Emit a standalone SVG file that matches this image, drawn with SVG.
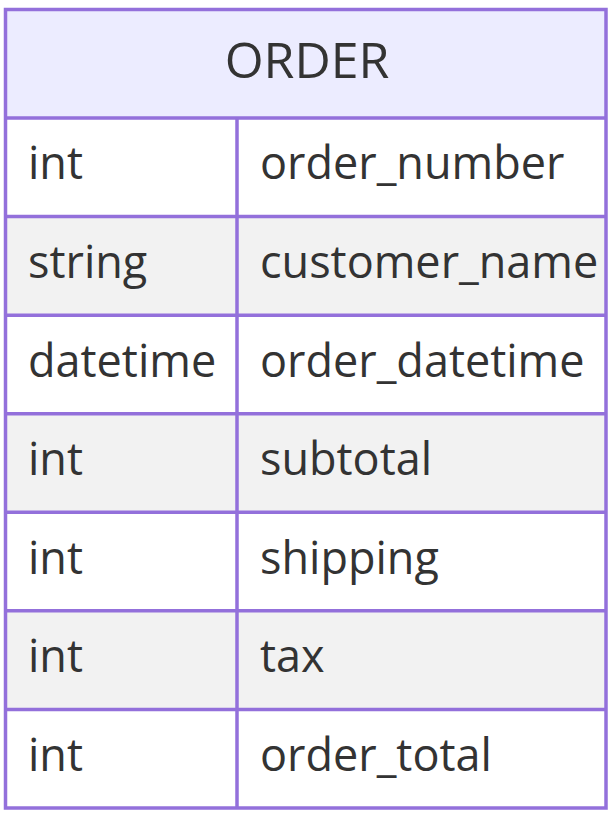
<svg xmlns="http://www.w3.org/2000/svg" width="614" height="818" viewBox="0 0 614 818">
<style>
.t{font-family:"Open Sans","Liberation Sans",sans-serif;font-size:45px;fill:#333333}
.h{font-family:"Open Sans","Liberation Sans",sans-serif;font-size:50px;fill:#333333;text-anchor:middle}
.ln{stroke:#9370DB;stroke-width:3.5;fill:none}
.odd{fill:#ffffff}
.even{fill:#f2f2f2}
</style>
<g id="ORDER">
<rect x="5.5" y="9.5" width="600.5" height="108.5" fill="#ECECFF"/>
<rect class="odd" x="5.5" y="118" width="600.5" height="98.57"/>
<rect class="even" x="5.5" y="216.57" width="600.5" height="98.57"/>
<rect class="odd" x="5.5" y="315.14" width="600.5" height="98.57"/>
<rect class="even" x="5.5" y="413.71" width="600.5" height="98.57"/>
<rect class="odd" x="5.5" y="512.29" width="600.5" height="98.57"/>
<rect class="even" x="5.5" y="610.86" width="600.5" height="98.57"/>
<rect class="odd" x="5.5" y="709.43" width="600.5" height="98.57"/>
<rect class="ln" x="5.5" y="9.5" width="600.5" height="798.5"/>
<path class="ln" d="M5.5 118H606M5.5 216.57H606M5.5 315.14H606M5.5 413.71H606M5.5 512.29H606M5.5 610.86H606M5.5 709.43H606M237 118V808"/>
<text class="h" x="307" y="78">ORDER</text>
<text class="t" x="28" y="179">int</text>
<text class="t" x="260" y="179">order_number</text>
<text class="t" x="28" y="278">string</text>
<text class="t" x="260" y="278">customer_name</text>
<text class="t" x="28" y="376.5">datetime</text>
<text class="t" x="260" y="376.5">order_datetime</text>
<text class="t" x="28" y="475">int</text>
<text class="t" x="260" y="475">subtotal</text>
<text class="t" x="28" y="573.5">int</text>
<text class="t" x="260" y="573.5">shipping</text>
<text class="t" x="28" y="672">int</text>
<text class="t" x="260" y="672">tax</text>
<text class="t" x="28" y="771">int</text>
<text class="t" x="260" y="771">order_total</text>
</g>
<g id="connectors"></g>
</svg>
